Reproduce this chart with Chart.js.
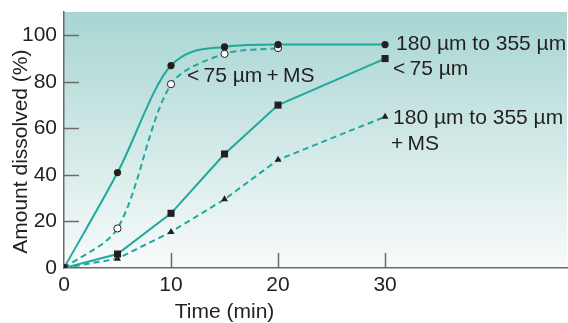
<!DOCTYPE html>
<html>
<head>
<meta charset="utf-8">
<script src="https://cdn.jsdelivr.net/npm/chart.js@4"></script>
<style>
  html, body { margin: 0; padding: 0; background: #fff; }
  #wrap { width: 568px; height: 323px; }
</style>
</head>
<body>
<div id="wrap"><canvas id="myChart"></canvas></div>
<script>
const ctx = document.getElementById('myChart');

// data
const times = [0, 5, 10, 15, 20, 30];
const coarse = [0, 41, 87, 95, 96, 96];          // 180-355 um
const coarseMS = [0, 4, 15.5, 29.5, 46.5, 65];   // 180-355 um + MS
const fine = [0, 6, 23.5, 49, 70, 90];           // <75 um
const fineMS = [0, 17, 79, 92, 94.5];            // <75 um + MS
const xTicks = [0, 10, 20, 30];
const yTicks = [0, 20, 40, 60, 80, 100];

const teal = '#1fa89c';
const ink = '#231f20';
const axisGrey = '#6b6b6b';
const font = 'Liberation Sans, Arial, sans-serif';

function pts(ys) {
  return ys.map((y, i) => ({ x: times[i], y: y }));
}

const chartDeco = {
  id: 'chartDeco',
  beforeDraw(chart) {
    const { ctx, chartArea: a } = chart;
    const g = ctx.createLinearGradient(0, a.top, 0, a.bottom);
    g.addColorStop(0, 'rgb(168,213,210)');
    g.addColorStop(0.55, 'rgb(212,234,232)');
    g.addColorStop(1, 'rgb(248,251,251)');
    ctx.save();
    ctx.fillStyle = g;
    ctx.fillRect(a.left, a.top, a.right - a.left, a.bottom - a.top);
    ctx.restore();
  },
  beforeDatasetsDraw(chart) {
    const { ctx, chartArea: a, scales } = chart;
    ctx.save();
    ctx.strokeStyle = axisGrey;
    ctx.lineWidth = 1.5;
    ctx.beginPath();
    yTicks.slice(1).forEach(v => {
      const y = Math.round(scales.y.getPixelForValue(v)) + 0.5;
      ctx.moveTo(a.left, y);
      ctx.lineTo(a.left + 15, y);
    });
    xTicks.slice(1).forEach(v => {
      const x = Math.round(scales.x.getPixelForValue(v)) + 0.5;
      ctx.moveTo(x, a.bottom);
      ctx.lineTo(x, a.bottom - 15);
    });
    ctx.stroke();
    ctx.restore();
  },
  afterDraw(chart) {
    const { ctx, scales } = chart;
    const xs = scales.x, ys = scales.y;
    ctx.save();
    ctx.fillStyle = ink;
    ctx.font = '21px ' + font;
    ctx.textAlign = 'left';
    ctx.textBaseline = 'alphabetic';
    const x30 = xs.getPixelForValue(30);
    ctx.fillText('180 \u00b5m to 355 \u00b5m', x30 + 11, ys.getPixelForValue(coarse[5]) + 5);
    ctx.fillText('<\u200975 \u00b5m', x30 + 8, ys.getPixelForValue(fine[5]) + 16);
    ctx.fillText('180 \u00b5m to 355 \u00b5m', x30 + 8, ys.getPixelForValue(coarseMS[5]) + 7);
    ctx.fillText('+\u2009MS', x30 + 6, ys.getPixelForValue(coarseMS[5]) + 33);
    ctx.fillText('<\u200975 \u00b5m\u2009+\u2009MS', xs.getPixelForValue(11.5), ys.getPixelForValue(80));

    // axis titles
    ctx.textAlign = 'center';
    ctx.fillText('Time (min)', xs.getPixelForValue(15), 318);
    ctx.translate(27, ys.getPixelForValue(50));
    ctx.rotate(-Math.PI / 2);
    ctx.fillText('Amount dissolved (%)', 0, 0);
    ctx.restore();
  }
};

new Chart(ctx, {
  type: 'line',
  data: {
    datasets: [
      {
        label: '<75 um',
        data: pts(fine),
        borderColor: teal,
        borderWidth: 2,
        pointStyle: 'rect',
        pointRadius: 5,
        pointBackgroundColor: ink,
        pointBorderColor: ink,
        pointBorderWidth: 0,
        tension: 0
      },
      {
        label: '180-355 um + MS',
        data: pts(coarseMS),
        borderColor: teal,
        borderWidth: 2,
        borderDash: [6, 4],
        pointStyle: 'triangle',
        pointRadius: 4,
        pointBackgroundColor: ink,
        pointBorderColor: ink,
        pointBorderWidth: 0,
        tension: 0
      },
      {
        label: '180-355 um',
        data: pts(coarse),
        borderColor: teal,
        borderWidth: 2,
        pointStyle: 'circle',
        pointRadius: 3.6,
        pointBackgroundColor: ink,
        pointBorderColor: ink,
        pointBorderWidth: 0,
        cubicInterpolationMode: 'monotone'
      },
      {
        label: '<75 um + MS',
        data: pts(fineMS),
        borderColor: teal,
        borderWidth: 2,
        borderDash: [6, 4],
        pointStyle: 'circle',
        pointRadius: 3.6,
        pointBackgroundColor: '#fff',
        pointBorderColor: ink,
        pointBorderWidth: 1,
        tension: 0.3
      }
    ]
  },
  options: {
    responsive: true,
    maintainAspectRatio: false,
    animation: false,
    events: [],
    layout: { autoPadding: false, padding: { top: 12, right: 1, left: 0, bottom: 0 } },
    plugins: {
      legend: { display: false },
      tooltip: { enabled: false }
    },
    scales: {
      x: {
        type: 'linear',
        min: 0,
        max: 47,
        afterBuildTicks: s => { s.ticks = xTicks.map(v => ({ value: v })); },
        afterFit: s => { s.height = 55; s.paddingLeft = 0; s.paddingRight = 0; },
        grid: { drawOnChartArea: false, drawTicks: false },
        border: { color: axisGrey, width: 1.5 },
        ticks: { color: ink, font: { family: font, size: 21 }, padding: 5, maxRotation: 0 }
      },
      y: {
        min: 0,
        max: 110,
        afterBuildTicks: s => { s.ticks = yTicks.map(v => ({ value: v })); },
        afterFit: s => { s.width = 64; s.paddingTop = 0; s.paddingBottom = 0; },
        grid: { drawOnChartArea: false, drawTicks: false },
        border: { color: axisGrey, width: 1.5 },
        ticks: { color: ink, font: { family: font, size: 21 }, padding: 7 }
      }
    }
  },
  plugins: [chartDeco]
});
</script>
</body>
</html>
